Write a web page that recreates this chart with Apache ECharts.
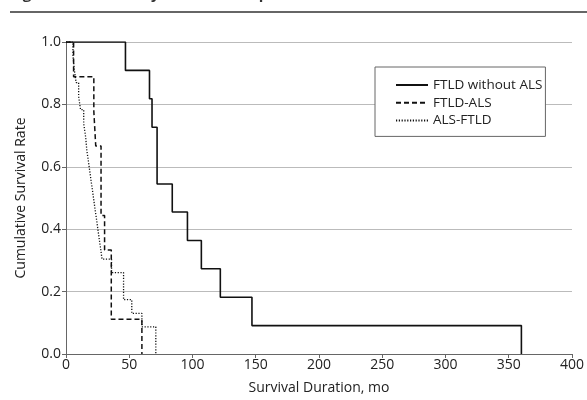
<!DOCTYPE html>
<html>
<head>
<meta charset="utf-8">
<script src="https://cdn.jsdelivr.net/npm/echarts@6/dist/echarts.min.js"></script>
<style>
  html, body { margin: 0; padding: 0; background: #fff; }
  #chart { width: 587px; height: 400px; }
</style>
</head>
<body>
<div id="chart"></div>
<script>
// Kaplan-Meier curves: step times (mo) and survival rate
const ftldTimes = [0, 47, 66, 68, 72, 84, 96, 107, 122, 147, 360];
const ftldSurv  = [1.0, 0.909, 0.818, 0.727, 0.545, 0.455, 0.364, 0.273, 0.182, 0.091, 0.0];

const ftldAlsTimes = [0, 6, 22, 23.5, 27.7, 30.5, 35.8, 60];
const ftldAlsSurv  = [1.0, 0.889, 0.778, 0.667, 0.444, 0.333, 0.111, 0.0];

const alsFtldTimes = [0, 5.5, 6.5, 8, 10, 11.5, 14, 15.5, 16.5, 18, 19.5, 21, 22.5, 24, 25.5, 27, 28.5, 36, 45.5, 52, 60, 71];
const alsFtldSurv  = [1.0, 0.957, 0.913, 0.870, 0.826, 0.783, 0.739, 0.696, 0.652, 0.609, 0.565, 0.522, 0.478, 0.435, 0.391, 0.348, 0.304, 0.261, 0.174, 0.130, 0.087, 0.0];

const seriesNames = ['FTLD without ALS', 'FTLD-ALS', 'ALS-FTLD'];
const xTicks = [0, 50, 100, 150, 200, 250, 300, 350, 400];

const FONT = '"Open Sans", "Noto Sans", sans-serif';
const zip = (xs, ys) => xs.map((x, i) => [x, ys[i]]);

const chart = echarts.init(document.getElementById('chart'), null, { renderer: 'canvas' });

function kmSeries(name, data, type, width) {
  return {
    name,
    type: 'line',
    step: 'end',
    symbol: 'none',
    data,
    lineStyle: { color: '#111', width, type },
    itemStyle: { color: '#111' },
    animation: false,
  };
}

chart.setOption({
  backgroundColor: '#fff',
  animation: false,
  textStyle: { fontFamily: FONT },
  graphic: [
    {
      type: 'text', left: 10, top: -13,
      style: { text: 'Figure 3. Survival by Clinical Group', font: `bold 15px ${FONT}`, fill: '#333' },
    },
    {
      type: 'line',
      shape: { x1: 10, y1: 12, x2: 587, y2: 12 },
      style: { stroke: '#333', lineWidth: 1.5 },
    },
  ],
  grid: { left: 66, right: 12, top: 42, bottom: 46 },
  legend: {
    orient: 'vertical',
    left: 375,
    top: 67,
    data: seriesNames,
    itemWidth: 32,
    itemHeight: 14,
    itemGap: 3.7,
    itemTextGap: 4,
    padding: [11, 3, 9, 20],
    borderColor: '#666',
    borderWidth: 1,
    backgroundColor: '#fff',
    itemStyle: { opacity: 0 },
    textStyle: { color: '#222', fontSize: 13.5, fontFamily: FONT },
  },
  xAxis: {
    type: 'value',
    min: xTicks[0],
    max: xTicks[xTicks.length - 1],
    interval: 50,
    name: 'Survival Duration, mo',
    nameLocation: 'middle',
    nameGap: 27,
    nameTextStyle: { color: '#222', fontSize: 14, fontFamily: FONT },
    axisLine: { lineStyle: { color: '#666', width: 1 } },
    axisTick: { length: 4, lineStyle: { color: '#666' } },
    axisLabel: { color: '#222', fontSize: 14, margin: 4, fontFamily: FONT },
    splitLine: { show: false },
  },
  yAxis: {
    type: 'value',
    min: 0,
    max: 1,
    interval: 0.2,
    name: 'Cumulative Survival Rate',
    nameLocation: 'middle',
    nameGap: 38,
    nameTextStyle: { color: '#222', fontSize: 14, fontFamily: FONT },
    axisLine: { show: true, lineStyle: { color: '#666', width: 1 } },
    axisTick: { show: true, length: 4, lineStyle: { color: '#666' } },
    axisLabel: { color: '#222', fontSize: 14, margin: 5, fontFamily: FONT, formatter: v => (+v).toFixed(1) },
    splitLine: { show: true, lineStyle: { color: '#bbb', width: 1 } },
  },
  series: [
    kmSeries(seriesNames[0], zip(ftldTimes, ftldSurv), 'solid', 1.6),
    kmSeries(seriesNames[1], zip(ftldAlsTimes, ftldAlsSurv), [5, 3], 1.5),
    kmSeries(seriesNames[2], zip(alsFtldTimes, alsFtldSurv), [1.2, 1.6], 1.3),
  ],
});
</script>
</body>
</html>
